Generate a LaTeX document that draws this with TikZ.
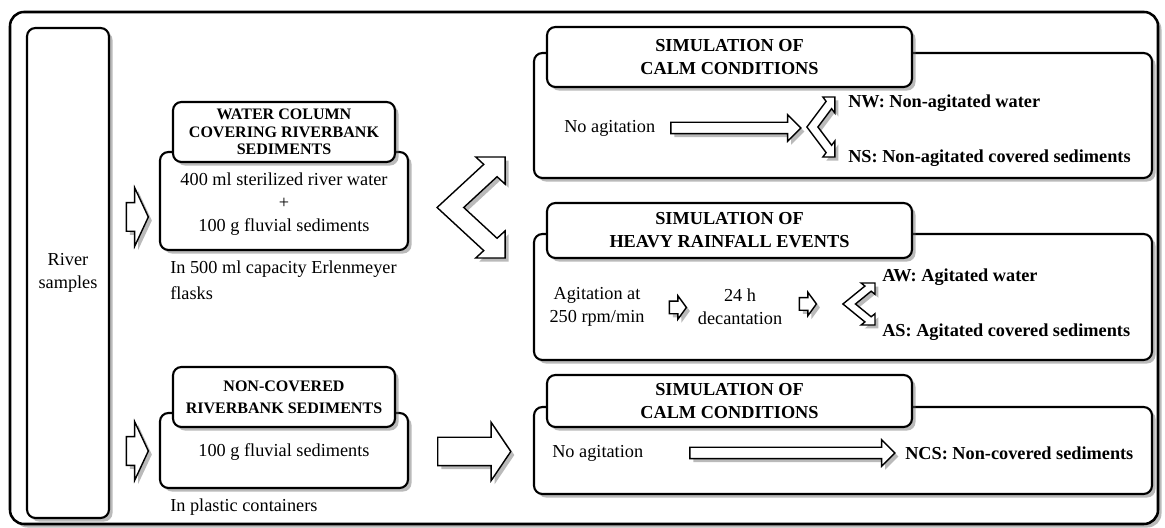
\documentclass[tikz,border=0pt]{standalone}
\usepackage{fontspec}
\setmainfont{Liberation Serif}
\usetikzlibrary{shapes.arrows, shadows}

\tikzset{
	softshadow/.style={drop shadow={shadow xshift=2.5pt, shadow yshift=-2.5pt, fill=black!60, opacity=0.45}},
	panel/.style={rectangle, rounded corners=6pt, draw=black, line width=1.5pt, fill=white, softshadow},
	titlebox/.style={panel, align=center, inner sep=0pt, font=\fontsize{13}{16.4}\selectfont\bfseries},
	smalltitle/.style={titlebox, font=\fontsize{11.4}{12.6}\selectfont\bfseries},
	txt/.style={inner sep=0pt, align=center, font=\fontsize{13}{16.5}\selectfont},
	result/.style={inner sep=0pt, anchor=west, font=\fontsize{13}{16.5}\selectfont\bfseries},
	blockarrow/.style={single arrow, draw=black, line width=1pt, fill=white, inner xsep=0pt, softshadow},
	fork/.pic={
		\draw[line width=1pt, fill=white, softshadow]
			(-0.707,0) -- (1.768,2.475) -- (1.344,2.899) -- (2.899,2.899) -- (2.899,1.344)
			-- (2.475,1.768) -- (0.707,0) -- (2.475,-1.768) -- (2.899,-1.344)
			-- (2.899,-2.899) -- (1.344,-2.899) -- (1.768,-2.475) -- cycle;
	}
}

\begin{document}
\begin{tikzpicture}
		\useasboundingbox (0,0) rectangle (29.125,13.2);
		\draw[line width=1.8pt, rounded corners=10pt, fill=white, softshadow] (0.25,0.1) rectangle (28.95,12.9);

		% samples
		\node[panel, txt, minimum width=2.05cm, minimum height=12.25cm] (RS) at (1.7,6.375) {River\\samples};

		\node[blockarrow, minimum height=0.55cm, inner ysep=0.34cm,
			single arrow head extend=0.375cm, single arrow tip angle=130] (A1) at (3.35,7.775) {};
		\node[blockarrow, minimum height=0.55cm, inner ysep=0.34cm,
			single arrow head extend=0.375cm, single arrow tip angle=130] (A2) at (3.35,1.925) {};

		% water column
		\node[panel, minimum width=6.2cm, minimum height=2.45cm] (WC) at (7.1,8.175) {};
		\node[smalltitle, minimum width=5.55cm, minimum height=1.5cm] (WCt) at (7.1,9.9)
			{WATER COLUMN\\COVERING RIVERBANK\\SEDIMENTS};
		\node[txt] (WCx) at (7.1,8.1) {400 ml sterilized river water\\+\\100 g fluvial sediments};
		\node[txt, anchor=west, align=left, font=\fontsize{13}{18.5}\selectfont] (WCn) at (4.25,6.2)
			{In 500 ml capacity Erlenmeyer\\flasks};

		% non-covered
		\node[panel, minimum width=6.2cm, minimum height=1.875cm] (NC) at (7.1,1.9375) {};
		\node[smalltitle, minimum width=5.55cm, minimum height=1.5cm, font=\fontsize{11.4}{15.6}\selectfont\bfseries] (NCt) at (7.1,3.275)
			{NON-COVERED\\RIVERBANK SEDIMENTS};
		\node[txt] (NCx) at (7.1,1.9) {100 g fluvial sediments};
		\node[txt, anchor=west] (NCn) at (4.25,0.525) {In plastic containers};

		\pic[x=0.4714cm, y=0.4355cm] (F1) at (11.26cm,8.0125cm) {fork};
		\node[blockarrow, minimum height=1.825cm, inner ysep=0.3375cm,
			single arrow head extend=0.375cm, single arrow tip angle=112] (A3) at (11.7375,1.9125) {};

		% calm conditions
		\node[panel, minimum width=15.45cm, minimum height=3.125cm] (C1) at (21.075,10.3125) {};
		\node[titlebox, minimum width=9.125cm, minimum height=1.5cm] (C1t) at (18.2375,11.775)
			{SIMULATION OF\\CALM CONDITIONS};
		\node[txt, anchor=west] (C1x) at (14.1,10.0) {No agitation};
		\node[blockarrow, minimum height=3.25cm, inner ysep=0.125cm,
			single arrow head extend=0.1875cm] (L1) at (18.325,10.0) {};
		\pic[x=0.194cm, y=0.259cm] (F2) at (20.31cm,10.025cm) {fork};
		\node[result] (NW) at (21.2,10.625) {NW: Non-agitated water};
		\node[result] (NS) at (21.2,9.25) {NS: Non-agitated covered sediments};

		% heavy rainfall
		\node[panel, minimum width=15.45cm, minimum height=3.15cm] (HR) at (21.075,5.775) {};
		\node[titlebox, minimum width=9.125cm, minimum height=1.375cm] (HRt) at (18.2375,7.4375)
			{SIMULATION OF\\HEAVY RAINFALL EVENTS};
		\node[txt] (HRa) at (14.925,5.5375) {Agitation at\\250 rpm/min};
		\node[blockarrow, minimum height=0.425cm, inner ysep=0.14cm,
			single arrow head extend=0.135cm, single arrow tip angle=108] (S1) at (16.89,5.5125) {};
		\node[txt] (HRd) at (18.5,5.5375) {24 h\\decantation};
		\node[blockarrow, minimum height=0.425cm, inner ysep=0.14cm,
			single arrow head extend=0.135cm, single arrow tip angle=108] (S2) at (20.14,5.6) {};
		\pic[x=0.222cm, y=0.181cm] (F3) at (21.23cm,5.6cm) {fork};
		\node[result] (AW) at (22.05,6.275) {AW: Agitated water};
		\node[result] (AS) at (22.05,4.9) {AS: Agitated covered sediments};

		% calm conditions, non-covered
		\node[panel, minimum width=15.45cm, minimum height=2.175cm] (C2) at (21.075,1.9375) {};
		\node[titlebox, minimum width=9.125cm, minimum height=1.3cm] (C2t) at (18.2375,3.175)
			{SIMULATION OF\\CALM CONDITIONS};
		\node[txt, anchor=west] (C2x) at (13.8,1.875) {No agitation};
		\node[blockarrow, minimum height=5.125cm, inner ysep=0.125cm,
			single arrow head extend=0.1875cm] (L2) at (19.7375,1.875) {};
		\node[result] (NCS) at (22.625,1.875) {NCS: Non-covered sediments};
	\end{tikzpicture}
\end{document}
